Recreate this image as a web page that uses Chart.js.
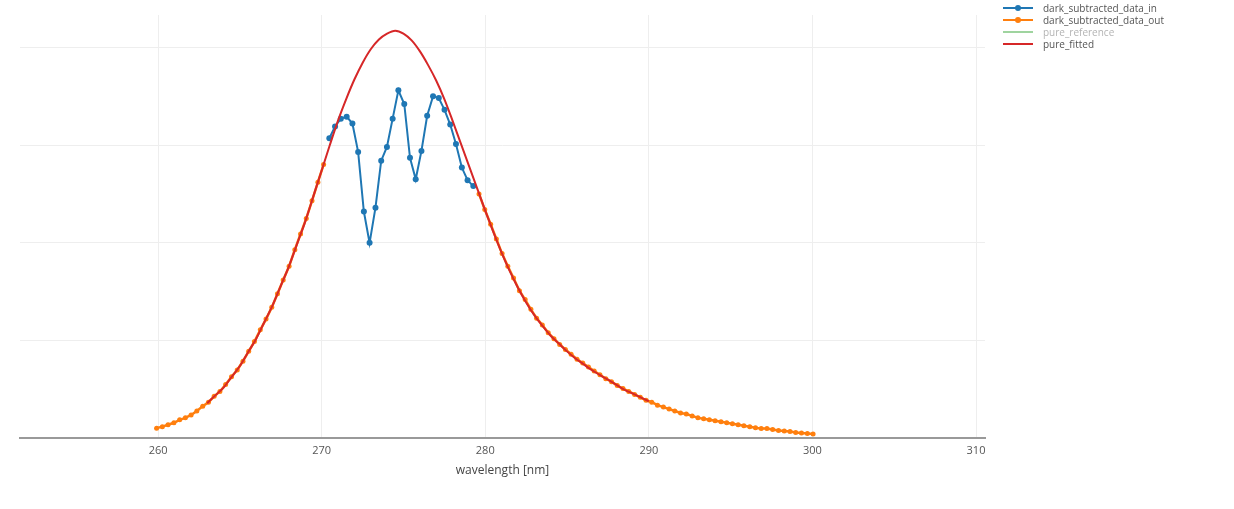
<!DOCTYPE html>
<html>
<head>
<meta charset="utf-8">
<title>wavelength scan</title>
<script src="https://cdn.jsdelivr.net/npm/chart.js@4.4.1/dist/chart.umd.min.js"></script>
<style>
  body { margin: 0; background: #fff; }
  #wrap { position: relative; width: 1234px; height: 509px; }
  #legend {
    position: absolute; left: 1003px; top: 2px;
    font: 10px "Open Sans", sans-serif; color: #555;
  }
  .row { height: 12px; line-height: 12px; white-space: nowrap; display: flex; align-items: center; }
  .swatch { position: relative; width: 30px; height: 12px; margin-right: 10px; }
  .swatch .ln { position: absolute; left: 0; right: 0; top: 5px; height: 2px; }
  .swatch .dot { position: absolute; left: 12px; top: 3px; width: 6px; height: 6px; border-radius: 3px; }
</style>
</head>
<body>
<div id="wrap">
  <canvas id="spectrum"></canvas>
  <div id="legend"></div>
</div>
<script>
// measured points inside the window
const wavelengthsIn = [270.47, 270.82, 271.17, 271.53, 271.88, 272.23, 272.58, 272.93, 273.29, 273.64,
  273.99, 274.34, 274.69, 275.05, 275.40, 275.75, 276.10, 276.45, 276.81, 277.16,
  277.51, 277.86, 278.21, 278.57, 278.92, 279.27];
const signalIn = [3.07, 3.19, 3.27, 3.29, 3.22, 2.93, 2.32, 2.00, 2.36, 2.84,
  2.98, 3.27, 3.56, 3.42, 2.87, 2.65, 2.94, 3.30, 3.50, 3.48,
  3.36, 3.21, 3.01, 2.77, 2.64, 2.58];

// measured points outside the window (both flanks)
const wavelengthsOut = [259.91, 260.26, 260.61, 260.97, 261.32, 261.67, 262.02, 262.37, 262.73, 263.08,
  263.43, 263.78, 264.13, 264.49, 264.84, 265.19, 265.54, 265.89, 266.25, 266.60,
  266.95, 267.30, 267.65, 268.01, 268.36, 268.71, 269.06, 269.41, 269.77, 270.12,
  279.62, 279.97, 280.33, 280.68, 281.03, 281.38, 281.73, 282.09, 282.44, 282.79,
  283.14, 283.49, 283.85, 284.20, 284.55, 284.90, 285.25, 285.61, 285.96, 286.31,
  286.66, 287.01, 287.37, 287.72, 288.07, 288.42, 288.77, 289.13, 289.48, 289.83,
  290.18, 290.53, 290.89, 291.24, 291.59, 291.94, 292.29, 292.65, 293.00, 293.35,
  293.70, 294.05, 294.41, 294.76, 295.11, 295.46, 295.81, 296.17, 296.52, 296.87,
  297.22, 297.57, 297.93, 298.28, 298.63, 298.98, 299.33, 299.69, 300.04];
const signalOut = [0.105, 0.12, 0.14, 0.16, 0.19, 0.21, 0.24, 0.28, 0.33, 0.37,
  0.43, 0.48, 0.55, 0.63, 0.70, 0.79, 0.89, 0.99, 1.11, 1.22,
  1.34, 1.48, 1.62, 1.76, 1.93, 2.09, 2.25, 2.43, 2.62, 2.80,
  2.50, 2.34, 2.19, 2.04, 1.89, 1.76, 1.64, 1.51, 1.42, 1.32,
  1.23, 1.16, 1.08, 1.02, 0.96, 0.91, 0.86, 0.81, 0.77, 0.73,
  0.69, 0.65, 0.61, 0.58, 0.54, 0.51, 0.48, 0.45, 0.42, 0.39,
  0.37, 0.34, 0.32, 0.30, 0.28, 0.26, 0.25, 0.23, 0.21, 0.20,
  0.19, 0.18, 0.17, 0.16, 0.15, 0.14, 0.13, 0.12, 0.11, 0.10,
  0.10, 0.09, 0.08, 0.075, 0.07, 0.06, 0.055, 0.05, 0.045];

// fitted profile
const wavelengthsFit = [263, 263.5, 264, 264.5, 265, 265.5, 266, 266.5, 267, 267.5,
  268, 268.5, 269, 269.5, 270, 270.5, 271, 271.5, 272, 272.5,
  273, 273.5, 274, 274.5, 275, 275.5, 276, 276.5, 277, 277.5,
  278, 278.5, 279, 279.5, 280, 280.5, 281, 281.5, 282, 282.5,
  283, 283.5, 284, 284.5, 285, 285.5, 286, 286.5, 287, 287.5,
  288, 288.5, 289, 289.5, 290];
const signalFit = [0.36, 0.44, 0.52, 0.63, 0.74, 0.88, 1.02, 1.19, 1.36, 1.56,
  1.76, 1.99, 2.22, 2.48, 2.74, 3.00, 3.25, 3.47, 3.67, 3.84,
  3.98, 4.08, 4.14, 4.17, 4.14, 4.07, 3.96, 3.82, 3.66, 3.47,
  3.25, 3.02, 2.79, 2.56, 2.33, 2.11, 1.90, 1.71, 1.54, 1.39,
  1.26, 1.15, 1.05, 0.97, 0.89, 0.82, 0.76, 0.70, 0.65, 0.60,
  0.55, 0.50, 0.46, 0.42, 0.38];

const xTickValues = [260, 270, 280, 290, 300, 310];
const yGridValues = [1, 2, 3, 4];

const seriesNames = ['dark_subtracted_data_in', 'dark_subtracted_data_out', 'pure_reference', 'pure_fitted'];
const seriesColors = ['#1f77b4', '#ff7f0e', '#2ca02c', '#d62728'];
const seriesMarkers = [true, true, false, false];
const seriesHidden = [false, false, true, false];

function toPoints(xs, ys) {
    return xs.map(function (x, i) { return { x: x, y: ys[i] }; });
}

// legend is plain html on the right
var legendDiv = document.getElementById('legend');
var legendHtml = '';
seriesNames.forEach(function (name, i) {
    var faded = seriesHidden[i] ? 'opacity:0.45;' : '';
    legendHtml += `<div class="row" style="${faded}">
        <span class="swatch"><span class="ln" style="background:${seriesColors[i]}"></span>
        ${seriesMarkers[i] ? `<span class="dot" style="background:${seriesColors[i]}"></span>` : ''}</span>
        <span>${name}</span></div>`;
});
legendDiv.innerHTML = legendHtml;

const ctx = document.getElementById('spectrum');

new Chart(ctx, {
    type: 'line',
    data: {
        datasets: [{
            label: seriesNames[0],
            data: toPoints(wavelengthsIn, signalIn),
            borderColor: seriesColors[0],
            backgroundColor: seriesColors[0],
            borderWidth: 2,
            pointRadius: 3,
            pointBorderWidth: 0,
            order: 1
        }, {
            label: seriesNames[1],
            data: toPoints(wavelengthsOut, signalOut),
            borderColor: seriesColors[1],
            backgroundColor: seriesColors[1],
            borderWidth: 2.5,
            pointRadius: 2.5,
            pointBorderWidth: 0,
            spanGaps: 1,  // break the line across the window
            order: 2
        }, {
            label: seriesNames[2],
            data: [],
            borderColor: seriesColors[2],
            hidden: true,
            order: 3
        }, {
            label: seriesNames[3],
            data: toPoints(wavelengthsFit, signalFit),
            borderColor: seriesColors[3],
            borderWidth: 2,
            pointRadius: 0,
            cubicInterpolationMode: 'monotone',
            order: 0
        }]
    },
    options: {
        responsive: true,
        maintainAspectRatio: false,
        animation: false,
        layout: { padding: { left: 20, right: 249, top: 15, bottom: 31 } },
        plugins: {
            legend: { display: false },
            tooltip: { enabled: false }
        },
        scales: {
            x: {
                type: 'linear',
                min: 251.56,
                max: 310.55,
                afterBuildTicks: function (axis) {
                    axis.ticks = xTickValues.map(function (v) { return { value: v }; });
                },
                grid: { color: '#eeeeee', drawTicks: false },
                border: { color: '#999999', width: 2 },
                ticks: {
                    padding: 6,
                    color: '#555',
                    font: { family: 'Open Sans', size: 11 }
                },
                title: {
                    display: true,
                    text: 'wavelength [nm]',
                    color: '#444',
                    padding: { top: 0, bottom: 0 },
                    font: { family: 'Open Sans', size: 12 }
                }
            },
            y: {
                min: 0,
                max: 4.33,
                afterBuildTicks: function (axis) {
                    axis.ticks = yGridValues.map(function (v) { return { value: v }; });
                },
                grid: { color: '#eeeeee', drawTicks: false },
                border: { display: false },
                ticks: { display: false }
            }
        }
    }
});
</script>
</body>
</html>
